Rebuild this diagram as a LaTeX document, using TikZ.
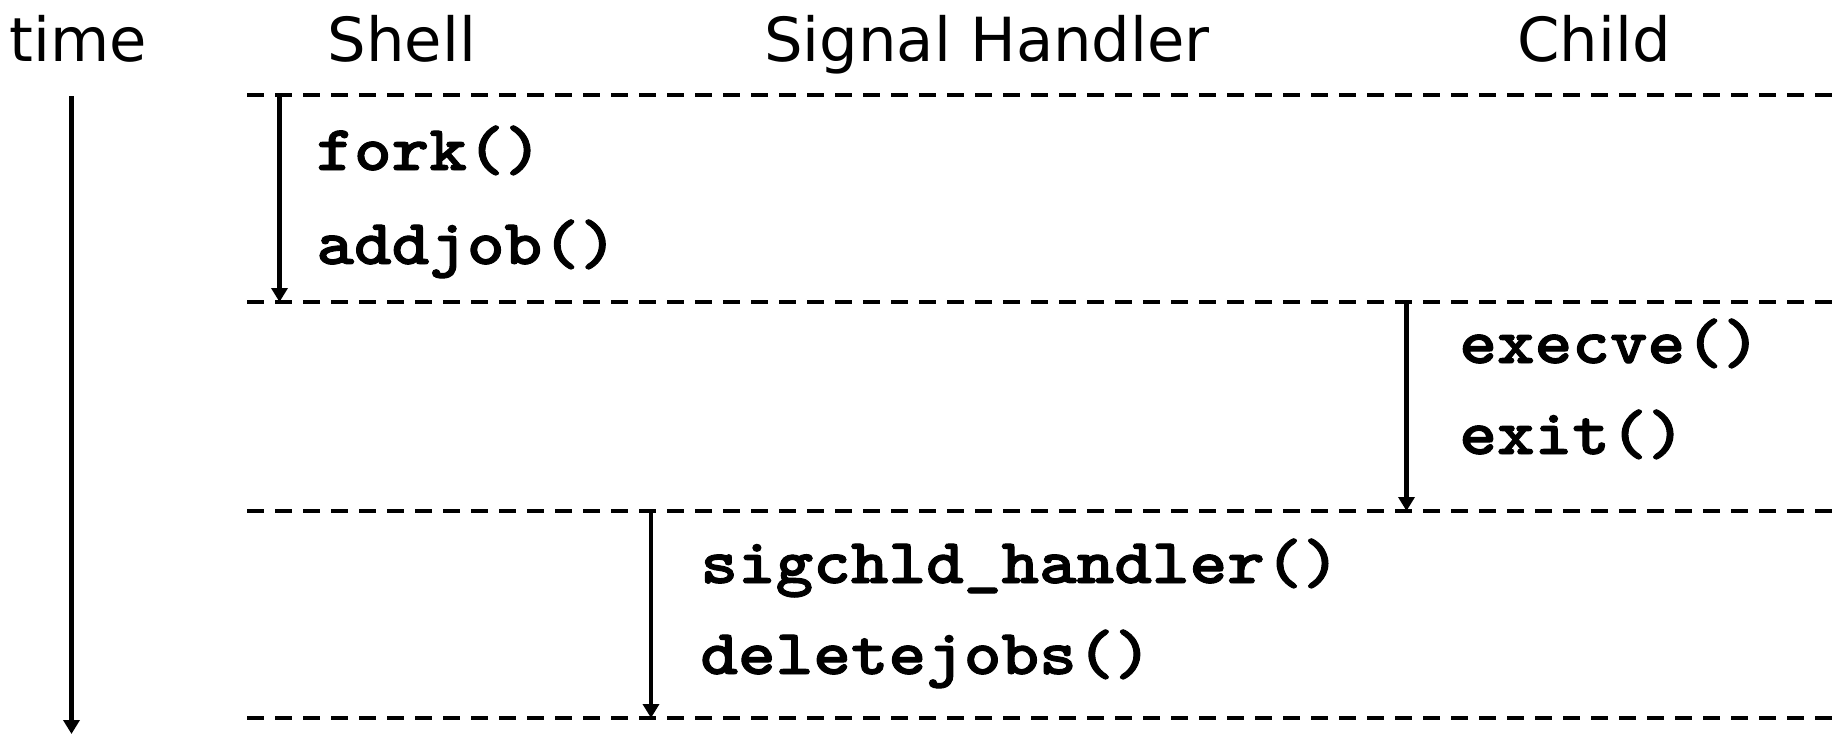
\documentclass[tikz,border=0pt]{standalone}
\usepackage{fontspec}
\setmainfont{DejaVu Sans}
\newfontfamily\codefont[Extension=.otf,FakeStretch=1.12,FakeBold=1.5]{lmmonolt10-bold}
\usetikzlibrary{arrows.meta}
\begin{document}
\begin{tikzpicture}[x=0.5pt,y=-0.5pt,
  header/.style={anchor=base,inner sep=0pt,font=\fontsize{30.4}{36}\selectfont},
  code/.style={anchor=base west,inner sep=0pt,font=\codefont\fontsize{32}{36}\selectfont},
  sep/.style={line width=2pt,dash pattern=on 8.5pt off 5.5pt},
  flow/.style={line width=2.3pt,-{Triangle[width=8pt,length=7pt]}}]
\useasboundingbox (0,0) rectangle (1838,734);
% headers
\node[header] (htime) at (78,61) {time};
\node[header] (hshell) at (402,61) {Shell};
\node[header] (hsig) at (987,61) {Signal Handler};
\node[header] (hchild) at (1594,61) {Child};
% separator coordinates
\coordinate (s1l) at (247,95);  \coordinate (s1r) at (1838,95);
\coordinate (s2l) at (247,302); \coordinate (s2r) at (1838,302);
\coordinate (s3l) at (247,511); \coordinate (s3r) at (1838,511);
\coordinate (s4l) at (247,718); \coordinate (s4r) at (1838,718);
\draw[sep] (s1l) -- (s1r);
\draw[sep] (s2l) -- (s2r);
\draw[sep] (s3l) -- (s3r);
\draw[sep] (s4l) -- (s4r);
% time arrow
\coordinate (t0) at (71.5,96);
\coordinate (t1) at (71.5,734);
\draw[flow] (t0) -- (t1);
% shell
\coordinate (a0) at (279.5,95);
\coordinate (a1) at (279.5,302);
\draw[flow] (a0) -- (a1);
\node[code] (fork) at (316,170) {fork()};
\node[code] (addjob) at (316,264) {addjob()};
% child
\coordinate (c0) at (1406.5,302);
\coordinate (c1) at (1406.5,511);
\draw[flow] (c0) -- (c1);
\node[code] (execve) at (1459,363) {execve()};
\node[code] (exit) at (1459,454) {exit()};
% signal handler
\coordinate (h0) at (651,511);
\coordinate (h1) at (651,718);
\draw[flow] (h0) -- (h1);
\node[code] (sigchld) at (700,583) {sigchld\_handler()};
\node[code] (deljobs) at (700,674) {deletejobs()};
\end{tikzpicture}
\end{document}
